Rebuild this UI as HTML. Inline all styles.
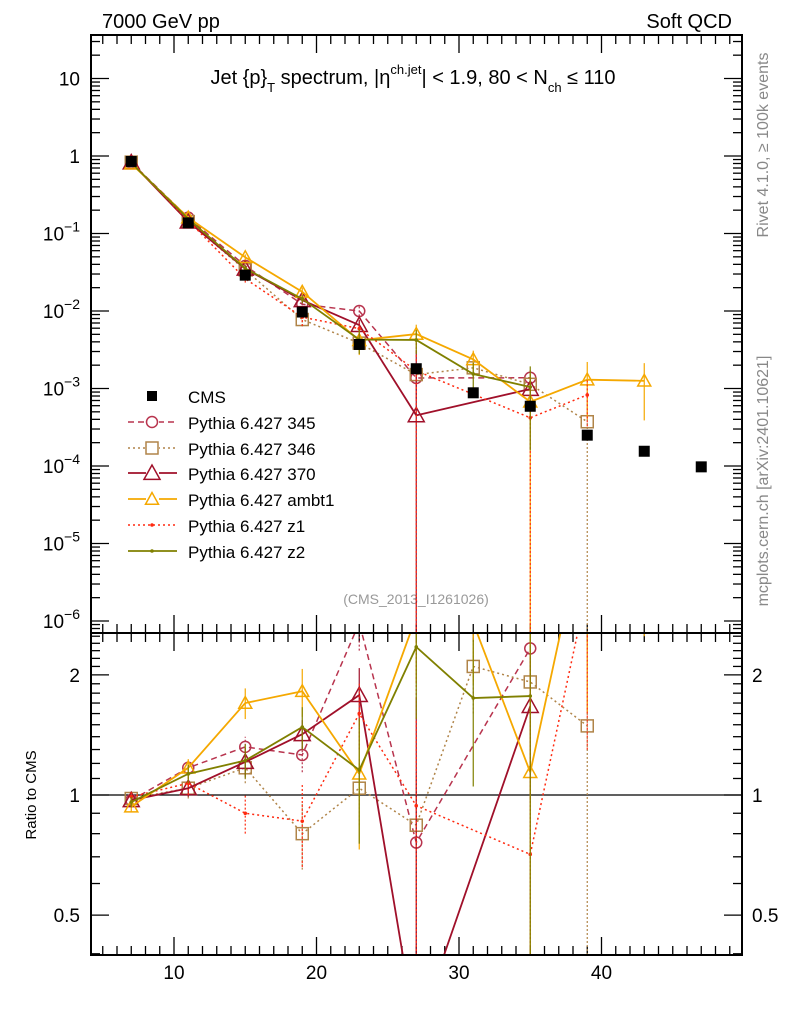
<!DOCTYPE html>
<html><head><meta charset="utf-8"><style>
html,body{margin:0;padding:0;background:#fff;overflow:hidden;width:786px;height:1024px}
svg{display:block;font-family:"Liberation Sans",sans-serif}
</style></head><body>
<svg id="c" width="786" height="1024" viewBox="0 0 786 1024" xmlns="http://www.w3.org/2000/svg">
<defs>
<clipPath id="cm"><rect x="91" y="35" width="651" height="598"/></clipPath>
<clipPath id="cr"><rect x="91" y="633" width="651" height="322"/></clipPath>
</defs>
<text x="102" y="28" font-size="20">7000 GeV pp</text>
<text x="732" y="28" font-size="20" text-anchor="end">Soft QCD</text>
<text x="413" y="84" font-size="20" text-anchor="middle">Jet {p}<tspan font-size="13" dy="8">T</tspan><tspan dy="-8"> spectrum, |η</tspan><tspan font-size="13" dy="-10">ch.jet</tspan><tspan dy="10">| &lt; 1.9, 80 &lt; N</tspan><tspan font-size="13" dy="8">ch</tspan><tspan dy="-8"> ≤ 110</tspan></text>
<text x="416" y="604" font-size="14" fill="#999" text-anchor="middle">(CMS_2013_I1261026)</text>
<text transform="translate(768,145) rotate(-90)" font-size="16" fill="#888" text-anchor="middle">Rivet 4.1.0, ≥ 100k events</text>
<text transform="translate(768,481) rotate(-90)" font-size="16" fill="#888" text-anchor="middle">mcplots.cern.ch [arXiv:2401.10621]</text>
<text transform="translate(36,795) rotate(-90)" font-size="15" text-anchor="middle">Ratio to CMS</text>
<g id="axes"></g>
<g id="main" clip-path="url(#cm)"></g>
<g id="ratio" clip-path="url(#cr)"></g>
<g id="legend"></g>
<rect x="91" y="35" width="651" height="598" fill="none" stroke="#000" stroke-width="2"/>
<rect x="91" y="633" width="651" height="322" fill="none" stroke="#000" stroke-width="2"/>
</svg>
<script>
const xs = [7,11,15,19,23,27,31,35,39,43,47];
const cmsVals = [0.85,0.137,0.029,0.0097,0.0037,0.0018,0.00088,0.00059,0.00025,0.000155,0.0000975];
const r345 = [0.97,1.17,1.32,1.26,2.7,0.76,null,2.33,null,null,null];
const e345 = [0.03,0.05,0.08,0.12,0.4,0.35,0,0.6,0,0,0];
const r346 = [0.98,1.04,1.17,0.80,1.04,0.84,2.1,1.92,1.49,null,null];
const e346 = [0.03,0.06,0.1,0.15,0.2,0.3,0.5,0.6,1.5,0,0];
const r370 = [0.97,1.04,1.21,1.42,1.78,0.25,null,1.67,null,null,null];
const e370 = [0.03,0.05,0.1,0.12,0.3,1.5,0,0.7,0,0,0];
const rAmbt1 = [0.935,1.17,1.70,1.82,1.13,2.8,2.7,1.14,5.2,8.1,null];
const eAmbt1 = [0.03,0.06,0.15,0.25,0.4,0.9,0.8,1.5,3.6,5.6,0];
const rZ1 = [0.99,1.07,0.90,0.86,1.60,0.94,null,0.71,3.3,null,null];
const eZ1 = [0.03,0.07,0.1,0.2,0.3,1.5,0,1.5,2,0,0];
const rZ2 = [0.96,1.13,1.22,1.48,1.155,2.35,1.75,1.77,null,null,null];
const eZ2 = [0.03,0.06,0.12,0.18,0.4,0.8,0.7,1.5,0,0,0];
const mainTicks = ["10","1","10^-1","10^-2","10^-3","10^-4","10^-5","10^-6"];
const ratioTicks = ["2","1","0.5"];
const xTicks = ["10","20","30","40"];

const NS="http://www.w3.org/2000/svg";
const X=v=>174+(v-10)*14.25;
const YM=v=>156-77.5*Math.log10(v);
const YR=v=>795-399*Math.log10(v);
function el(tag,attrs,parent){const e=document.createElementNS(NS,tag);for(const k in attrs)e.setAttribute(k,attrs[k]);parent.appendChild(e);return e;}
const axes=document.getElementById('axes'),gm=document.getElementById('main'),gr=document.getElementById('ratio'),gl=document.getElementById('legend');

for(let v=5;v<=49;v++){
  const big=v%10===0,len=big?18:9,x=X(v);
  for(const [y0,d] of [[633,-1],[35,1],[955,-1],[633,1]]){
    const t=el('line',{x1:x,x2:x,y1:y0,y2:y0+d*len,stroke:'#000','stroke-width':1.3},axes);
    
    
  }
}
xTicks.forEach(s=>{const t=el('text',{x:X(+s),y:979,'font-size':19,'text-anchor':'middle'},axes);t.textContent=s;
  
  });
for(let d=-7;d<=1;d++){for(let m=1;m<=9;m++){const v=m*Math.pow(10,d);const y=YM(v);if(y<35||y>633)continue;
  const len=m===1?18:9;
  for(const [x0,s] of [[91,1],[742,-1]]){const t=el('line',{x1:x0,x2:x0+s*len,y1:y,y2:y,stroke:'#000','stroke-width':1.3},axes);
    
    }}}
mainTicks.forEach(s=>{let v;if(s.includes('^')){const p=+s.split('^')[1];v=Math.pow(10,p);}else v=+s;
  const t=el('text',{x:80,y:YM(v)+7,'font-size':19,'text-anchor':'end'},axes);
  
  
  if(s.includes('^')){t.textContent='10';const sp=el('tspan',{'font-size':14,dy:-9},t);sp.textContent=s.split('^')[1].replace('-','−');}
  else t.textContent=s;});
const rt=[];for(let v=0.4;v<0.95;v+=0.1)rt.push(v);for(let v=1;v<2.55;v+=0.1)rt.push(v);
rt.forEach(v=>{const y=YR(v);if(y<633||y>955)return;const big=[0.5,1,2].some(b=>Math.abs(b-v)<1e-6);
  for(const [x0,s] of [[91,1],[742,-1]]){const t=el('line',{x1:x0,x2:x0+s*(big?18:9),y1:y,y2:y,stroke:'#000','stroke-width':1.3},axes);
    
    }});
ratioTicks.forEach(s=>{for(const [x,a] of [[80,'end'],[752,'start']]){const t=el('text',{x:x,y:YR(+s)+7,'font-size':19,'text-anchor':a},axes);t.textContent=s;
  
  }});
const one=el('line',{x1:91,x2:742,y1:YR(1),y2:YR(1),stroke:'#000','stroke-width':1.3},gr);



const series=[
 {name:'Pythia 6.427 345',r:r345,e:e345,c:'#b8344e',dash:'6,4',mk:'circle',w:1.5},
 {name:'Pythia 6.427 346',r:r346,e:e346,c:'#b08448',dash:'2,3',mk:'square',w:1.5},
 {name:'Pythia 6.427 370',r:r370,e:e370,c:'#a0102a',dash:'',mk:'tri',w:1.8,big:true},
 {name:'Pythia 6.427 ambt1',r:rAmbt1,e:eAmbt1,c:'#f5a800',dash:'',mk:'tri',w:1.8},
 {name:'Pythia 6.427 z1',r:rZ1,e:eZ1,c:'#ff2a10',dash:'2,3',mk:'dot',w:1.5},
 {name:'Pythia 6.427 z2',r:rZ2,e:eZ2,c:'#808000',dash:'',mk:'dot',w:1.8}
];
function marker(g,s,x,y,nm){
  let m;
  if(s.mk==='circle')m=el('circle',{cx:x,cy:y,r:5.5,fill:'none',stroke:s.c,'stroke-width':1.5},g);
  else if(s.mk==='square')m=el('rect',{x:x-6,y:y-6,width:12,height:12,fill:'none',stroke:s.c,'stroke-width':1.5},g);
  else if(s.mk==='tri'){const h=s.big?8:6.5;m=el('polygon',{points:`${x},${y-h} ${x-h},${y+h*0.8} ${x+h},${y+h*0.8}`,fill:'none',stroke:s.c,'stroke-width':1.5},g);}
  else m=el('circle',{cx:x,cy:y,r:1.8,fill:s.c},g);
  
  
}
function drawSeries(g,s,Y,valFn,idx,yMin,yMax){
  const pts=[];
  xs.forEach((xv,i)=>{const v=valFn(i);if(v==null)return;pts.push([X(xv),Y(v),i,v]);});
  const p=el('polyline',{points:pts.map(q=>q[0]+','+q[1]).join(' '),fill:'none',stroke:s.c,'stroke-width':s.w,'stroke-dasharray':s.dash},g);
  
  
  pts.forEach(q=>{const i=q[2],v=q[3],rel=s.e[i]/s.r[i];
    const y1=rel>=1?yMax:Math.min(yMax,Y(v*(1-rel))),y2=Math.max(yMin,Y(v*(1+rel)));
    const eb=el('line',{x1:q[0],x2:q[0],y1:y1,y2:y2,stroke:s.c,'stroke-width':1.2,'stroke-dasharray':s.dash?'2,2':''},g);
    
    
    marker(g,s,q[0],q[1],'point');});
}
series.forEach((s,k)=>{
  drawSeries(gm,s,YM,i=>s.r[i]==null?null:s.r[i]*cmsVals[i],k,35,633);
  drawSeries(gr,s,YR,i=>s.r[i],k,633,955);
});
xs.forEach((xv,i)=>{const m=el('rect',{x:X(xv)-5.5,y:YM(cmsVals[i])-5.5,width:11,height:11,fill:'#000'},gm);
  
  });
const ly=[396,422,448,473,499,525,551];
const lc=el('rect',{x:147,y:ly[0]-5,width:10,height:10,fill:'#000'},gl);


const t0=el('text',{x:188,y:ly[0]+7,'font-size':17},gl);t0.textContent='CMS';


series.forEach((s,k)=>{const y=ly[k+1];
  const l=el('line',{x1:128,x2:177,y1:y,y2:y,stroke:s.c,'stroke-width':s.w,'stroke-dasharray':s.dash},gl);
  
  
  if(s.mk!=='dot'){el('rect',{x:146,y:y-7,width:13,height:14,fill:'#fff'},gl);}
  marker(gl,s,152,y,'legend-marker');
  const t=el('text',{x:188,y:y+7,'font-size':17},gl);t.textContent=s.name;
  
  });
</script>
</body></html>
